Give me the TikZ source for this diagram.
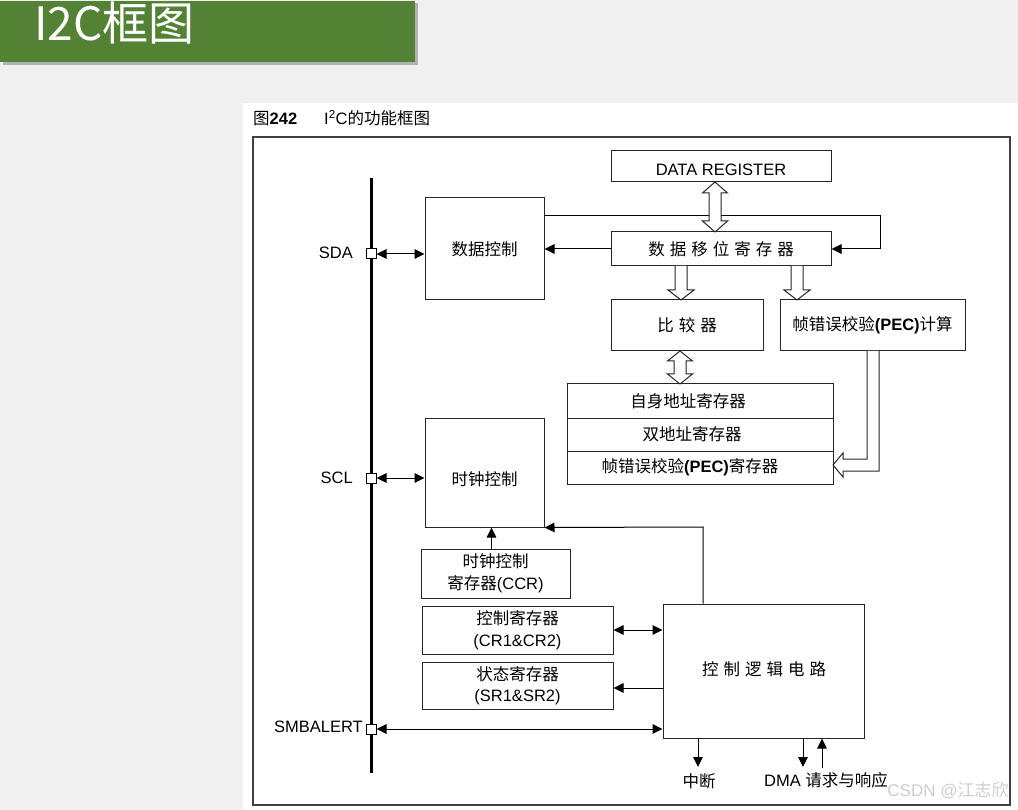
\documentclass[tikz,border=0pt]{standalone}
\usepackage{fontspec}
\setmainfont{Liberation Sans}
\newfontfamily\cjk{Noto Sans CJK SC}
\usetikzlibrary{arrows.meta,calc}
\definecolor{bggray}{RGB}{240,240,240}
\definecolor{bannergreen}{RGB}{84,130,53}
\definecolor{wmgray}{RGB}{205,205,205}
\newcommand{\zh}[1]{{\cjk #1}}
\newcommand{\gp}{\hspace{5pt}}
\begin{document}
\begin{tikzpicture}[x=1pt,y=-1pt,
  box/.style={draw=black!85, line width=1pt, inner sep=0pt, align=center, font=\fontsize{16.5}{21.5}\selectfont},
  pinbox/.style={draw=black, line width=1pt, fill=white, minimum size=10pt, inner sep=0pt},
  lab/.style={inner sep=0pt, font=\fontsize{16.5}{20}\selectfont},
  arr/.style={line width=1pt, -{Triangle[length=10pt,width=9.5pt]}},
  dbl/.style={line width=1pt, {Triangle[length=10pt,width=9.5pt]}-{Triangle[length=10pt,width=9.5pt]}},
  hol/.style={draw=black!85, line width=1pt, fill=white, line join=miter},
]
\useasboundingbox (0,0) rectangle (1018,810);
\fill[bggray] (0,0) rectangle (1018,810);
% banner
\fill[black!30] (3,3) rectangle (418,65);
\fill[bannergreen] (0,1) rectangle (415,62);
\node[anchor=base west, inner sep=0pt, text=white, font=\cjk\fontsize{46}{50}\selectfont] (title) at (34,41) {I2C框图};
% page
\fill[white] (243,103) rectangle (1018,810);
\node[lab, anchor=base west] (capA) at (253,125) {\zh{图}\textbf{242}};
\node[lab, anchor=base west] (capB) at (324,125) {I\textsuperscript{2}C\zh{的功能框图}};
\draw[black!75, line width=1.2pt] (253,137) rectangle (1010,805);

% bus
\coordinate (bt) at (371,178);
\coordinate (bb) at (371,773);
\draw[line width=3pt] (bt) -- (bb);
\node[pinbox] (sda) at (371,254) {};
\node[pinbox] (scl) at (371,478) {};
\node[pinbox] (sm) at (371,729) {};
\node[lab, anchor=east] (sdat) at (353,253) {SDA};
\node[lab, anchor=east] (sclt) at (353,478) {SCL};
\node[lab, anchor=east] (smt) at (363,727) {SMBALERT};

% boxes
\node[box, minimum width=220pt, minimum height=31pt] (dr) at (721,166.5) {};
\node[lab] (drt) at (721,170) {DATA REGISTER};
\node[box, minimum width=119pt, minimum height=102pt] (dc) at (484.5,249) {\zh{数据控制}};
\node[box, minimum width=220pt, minimum height=34pt] (sr) at (721,249) {\zh{数\gp 据\gp 移\gp 位\gp 寄\gp 存\gp 器}};
\node[box, minimum width=152pt, minimum height=51pt] (cmp) at (687,325.5) {\zh{比\gp 较\gp 器}};
\node[box, minimum width=185pt, minimum height=51pt] (pec) at (872.5,325.5) {\zh{帧错误校验}\textbf{(PEC)}\zh{计算}};
\node[box, minimum width=266pt, minimum height=34pt] (oar) at (700,401) {\zh{自身地址寄存器}\hspace*{24pt}};
\node[box, minimum width=266pt, minimum height=33pt] (dar) at (700,434.5) {\zh{双地址寄存器}\hspace*{16pt}};
\node[box, minimum width=266pt, minimum height=33pt] (per) at (700,467.5) {\zh{帧错误校验}\textbf{(PEC)}\zh{寄存器}\hspace*{20pt}};
\node[box, minimum width=119pt, minimum height=109pt] (ck) at (484.5,472.5) {};
\node[lab] (ckt) at (484.5,479) {\zh{时钟控制}};
\node[box, minimum width=149pt, minimum height=49pt] (ccr) at (495.5,573.5) {\zh{时钟控制}\\\zh{寄存器}(CCR)};
\node[box, minimum width=191pt, minimum height=48pt] (cr) at (517.5,630) {\zh{控制寄存器}\\(CR1\&CR2)};
\node[box, minimum width=191pt, minimum height=47pt] (srg) at (517.5,685.5) {\zh{状态寄存器}\\(SR1\&SR2)};
\node[box, minimum width=201pt, minimum height=134pt] (cl) at (763.5,671) {};
\node[lab] (clt) at (764,669) {\zh{控\gp 制\gp 逻\gp 辑\gp 电\gp 路}};

% connectors
\draw[dbl] (sda.east) -- (sda.east -| dc.west);
\draw[arr] (sr.west) -- (sr.west -| dc.east);
\coordinate (lp) at (880,216);
\draw[arr] (dc.east |- lp) -- (lp) |- (sr.east);
\draw[dbl] (scl.east) -- (scl.east -| ck.west);
\coordinate (cu) at (703,527);
\draw[arr] (cu |- cl.north) -- (cu) -- (ck.south east);
\coordinate (c1) at ($(ccr.north)+(-4,0)$);
\draw[arr] (c1) -- (c1 |- ck.south);
\draw[dbl] (cr.east) -- (cr.east -| cl.west);
\coordinate (s1) at ($(srg.east)+(0,2.5)$);
\draw[arr] (s1 -| cl.west) -- (s1);
\draw[dbl] (sm.east) -- (sm.east -| cl.west);
\coordinate (irq) at (698,767);
\draw[arr] (irq |- cl.south) -- (irq);
\coordinate (d1) at (803,767);
\draw[arr] (d1 |- cl.south) -- (d1);
\coordinate (d2) at (822,768);
\draw[arr] (d2) -- (d2 |- cl.south);
\node[lab] (irqt) at (699,781) {\zh{中断}};
\node[lab] (dmat) at (826,780) {DMA \zh{请求与响应}};

% hollow arrows
\draw[hol] (715,182) -- (727.5,193) -- (721,193) -- (721,221) -- (727.5,221) -- (715,232) -- (702.5,221) -- (709,221) -- (709,193) -- (702.5,193) -- cycle;
\draw[hol] (675,266) -- (675,290) -- (668,290) -- (681,300) -- (694,290) -- (687,290) -- (687,266);
\draw[hol] (791,266) -- (791,290) -- (784,290) -- (797,300) -- (810,290) -- (803,290) -- (803,266);
\draw[hol] (680,351) -- (692.5,361) -- (686,361) -- (686,374) -- (692.5,374) -- (680,384) -- (667.5,374) -- (674,374) -- (674,361) -- (667.5,361) -- cycle;
\draw[hol] (867,351) -- (867,459) -- (843,459) -- (843,453) -- (833,465) -- (843,477) -- (843,471) -- (879,471) -- (879,351);

% watermark
\node[inner sep=0pt, text=wmgray, font=\fontsize{17}{20}\selectfont] (wm) at (948,791) {CSDN @\zh{江志欣}};
\end{tikzpicture}
\end{document}
